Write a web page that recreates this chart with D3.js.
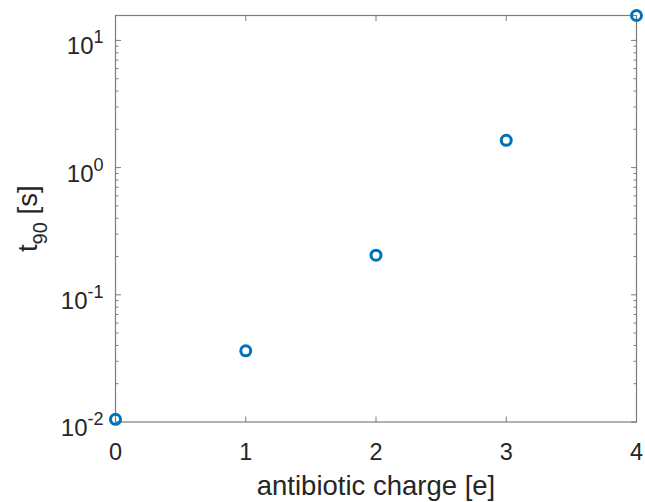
<!DOCTYPE html>
<html>
<head>
<meta charset="utf-8">
<script src="https://cdn.jsdelivr.net/npm/d3@7"></script>
<style>
  body { margin: 0; background: #fff; }
  text { font-family: "Liberation Sans", Arial, sans-serif; fill: #262626; }
</style>
</head>
<body>
<div id="chart"></div>
<script>
// data
var charge = [0, 1, 2, 3, 4];
var t90 = [0.0105, 0.0363, 0.205, 1.64, 15.7];
var xTicks = [0, 1, 2, 3, 4];
var yTicks = [0.01, 0.1, 1, 10];
var yExp = ["-2", "-1", "0", "1"];

var margin = {top: 15.5, right: 8.5, bottom: 80, left: 115.5},
    width = 645 - margin.left - margin.right,
    height = 502 - margin.top - margin.bottom;

var x = d3.scaleLinear().domain([0, 4]).range([0, width]);
var y = d3.scaleLog().domain([0.01, 15.7]).range([height, 0]);

var svg = d3.select("#chart").append("svg")
    .attr("width", 645)
    .attr("height", 502)
  .append("g")
    .attr("transform", "translate(" + margin.left + "," + margin.top + ")");

var axisColor = "#7d7d7d";

// minor ticks on log axis
var minor = [];
[0.01, 0.1, 1, 10].forEach(function(d) {
  for (var k = 2; k <= 9; k++) {
    var v = d * k;
    if (v <= 15.7) minor.push(v);
  }
});

// left and right minor / major ticks
[0, width].forEach(function(xx, i) {
  var dir = i === 0 ? 1 : -1;
  svg.selectAll(null).data(minor).enter().append("line")
    .attr("x1", xx).attr("x2", xx + dir * 3)
    .attr("y1", function(d) { return y(d); })
    .attr("y2", function(d) { return y(d); })
    .attr("stroke", axisColor).attr("stroke-width", 1);
  svg.selectAll(null).data(yTicks).enter().append("line")
    .attr("x1", xx).attr("x2", xx + dir * 5.5)
    .attr("y1", function(d) { return y(d); })
    .attr("y2", function(d) { return y(d); })
    .attr("stroke", axisColor).attr("stroke-width", 1);
});

// bottom and top ticks
[height, 0].forEach(function(yy, i) {
  var dir = i === 0 ? -1 : 1;
  svg.selectAll(null).data(xTicks).enter().append("line")
    .attr("x1", function(d) { return x(d); })
    .attr("x2", function(d) { return x(d); })
    .attr("y1", yy).attr("y2", yy + dir * 5.5)
    .attr("stroke", axisColor).attr("stroke-width", 1);
});

// box
svg.append("rect")
    .attr("x", 0).attr("y", 0)
    .attr("width", width).attr("height", height)
    .attr("fill", "none")
    .attr("stroke", axisColor)
    .attr("stroke-width", 1.2);

// x tick labels
svg.selectAll(null).data(xTicks).enter().append("text")
    .attr("x", function(d) { return x(d); })
    .attr("y", height + 38)
    .attr("text-anchor", "middle")
    .style("font-size", "23.5px")
    .text(function(d) { return d; });

// y tick labels 10^n
var yl = svg.selectAll(null).data(yTicks).enter().append("text")
    .attr("x", -12)
    .attr("y", function(d) { return y(d) + 14; })
    .attr("text-anchor", "end")
    .style("font-size", "24px");
yl.append("tspan").text("10");
yl.append("tspan")
    .attr("dy", -11)
    .style("font-size", "18px")
    .text(function(d, i) { return yExp[i]; });

// axis titles
svg.append("text")
    .attr("x", width / 2)
    .attr("y", height + 73)
    .attr("text-anchor", "middle")
    .style("font-size", "27.5px")
    .text("antibiotic charge [e]");

var yt = svg.append("text")
    .attr("transform", "translate(" + (-79) + "," + (height / 2) + ") rotate(-90)")
    .attr("text-anchor", "middle")
    .style("font-size", "27.5px");
yt.append("tspan").text("t");
yt.append("tspan").attr("dy", 10).style("font-size", "20px").text("90");
yt.append("tspan").attr("dy", -10).text(" [s]");

// markers
svg.selectAll(null).data(charge).enter().append("circle")
    .attr("cx", function(d) { return x(d); })
    .attr("cy", function(d, i) { return y(t90[i]); })
    .attr("r", 5)
    .attr("fill", "none")
    .attr("stroke", "#0072BD")
    .attr("stroke-width", 3);
</script>
</body>
</html>
